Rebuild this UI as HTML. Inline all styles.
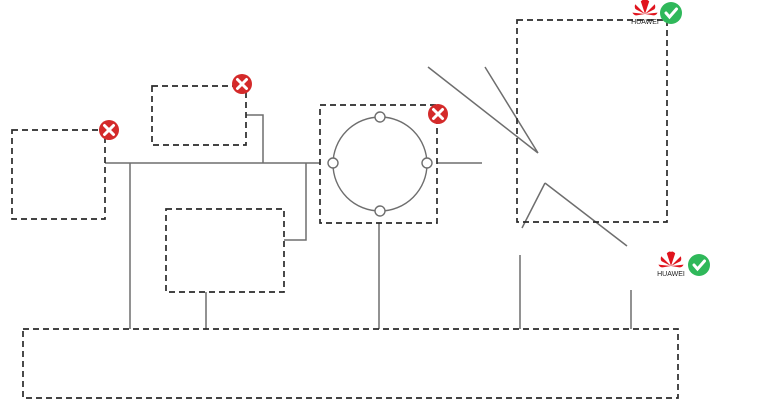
<!DOCTYPE html>
<html><head><meta charset="utf-8"><style>body{margin:0;background:#fff}svg{display:block}</style></head>
<body>
<svg width="777" height="419" xmlns="http://www.w3.org/2000/svg" font-family="Liberation Sans, sans-serif">
<defs>
<g id="x"><circle r="10" fill="#d42a2a"/><path d="M-4.5,-4.5L4.5,4.5M4.5,-4.5L-4.5,4.5" stroke="#fff" stroke-width="3" stroke-linecap="round"/></g>
<g id="ok"><circle r="11" fill="#2fb85a"/><path d="M-5,0L-1.5,4L5.5,-4" stroke="#fff" stroke-width="3" fill="none" stroke-linecap="round"/></g>
<g id="hw"><g transform="scale(1.4)"><path d="M0,0 L-3,-9 Q-1,-11 0,-10Z M0,0 L3,-9 Q1,-11 0,-10Z M0,0 L-7,-7 Q-8,-4 -6,-3Z M0,0 L7,-7 Q8,-4 6,-3Z M0,0 L-9,-1 Q-8,1 -6,1Z M0,0 L9,-1 Q8,1 6,1Z" fill="#e0141e"/></g><text y="10" font-size="7" text-anchor="middle" fill="#222">HUAWEI</text></g>
</defs>
<g stroke="#6e6e6e" stroke-width="1.5" fill="none">
<path d="M105,163H320M246,115H263V163M306,163V240H284M130,163V329M206,292V329M379,223V329M437,163H482M520,255V329M631,290V329"/>
<path d="M428,67L538,153M485,67L538,153M545,183L522,228M545,183L627,246"/>
</g>
<g stroke="#2a2a2a" stroke-width="1.7" fill="none" stroke-dasharray="6,4">
<rect x="12" y="130" width="93" height="89"/>
<rect x="152" y="86" width="94" height="59"/>
<rect x="166" y="209" width="118" height="83"/>
<rect x="320" y="105" width="117" height="118"/>
<rect x="517" y="20" width="150" height="202"/>
<rect x="23" y="329" width="655" height="69"/>
</g>
<g stroke="#6e6e6e" stroke-width="1.4" fill="#fff">
<circle cx="380" cy="164" r="47" fill="none"/>
<circle cx="380" cy="117" r="5"/><circle cx="333" cy="163" r="5"/><circle cx="427" cy="163" r="5"/><circle cx="380" cy="211" r="5"/>
</g>
<use href="#x" x="109" y="130"/>
<use href="#x" x="242" y="84"/>
<use href="#x" x="438" y="114"/>
<use href="#hw" x="645" y="14"/>
<use href="#ok" x="671" y="13"/>
<use href="#hw" x="671" y="266"/>
<use href="#ok" x="699" y="265"/>
</svg>
</body></html>
